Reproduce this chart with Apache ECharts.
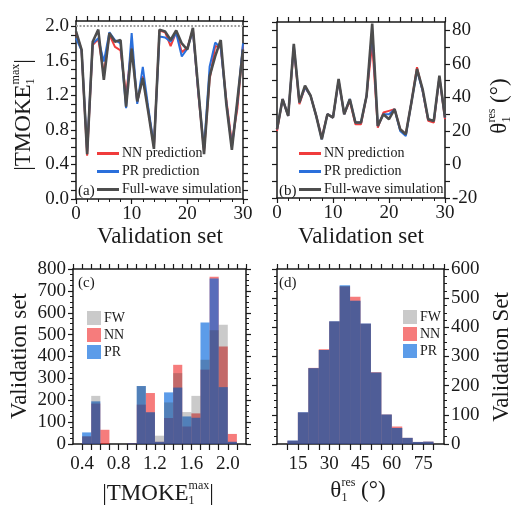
<!DOCTYPE html>
<html>
<head>
<meta charset="utf-8">
<script src="https://cdn.jsdelivr.net/npm/echarts@6/dist/echarts.min.js"></script>
<style>html,body{margin:0;padding:0;background:#fff}#c{width:512px;height:505px}</style>
</head>
<body>
<div id="c"></div>
<script>
// ---------- data ----------
const validationIdx = [0,1,2,3,4,5,6,7,8,9,10,11,12,13,14,15,16,17,18,19,20,21,22,23,24,25,26,27,28,29,30];
const tmokeFW = [1.94,1.73,0.52,1.82,1.96,1.38,1.92,1.82,1.84,1.07,1.74,1.13,1.40,1.00,0.58,1.96,1.94,1.84,1.95,1.80,1.73,1.98,1.25,0.52,1.42,1.65,1.84,1.10,0.57,1.15,1.73];
const tmokeNN = [1.93,1.72,0.50,1.78,1.85,1.45,1.90,1.76,1.72,1.20,1.78,1.12,1.42,1.02,0.60,1.95,1.93,1.77,1.93,1.70,1.75,1.96,1.20,0.55,1.38,1.77,1.75,1.15,0.65,1.05,1.78];
const tmokePR = [1.86,1.72,0.55,1.80,1.86,1.59,1.93,1.84,1.80,1.05,1.92,1.10,1.53,1.05,0.62,1.88,1.87,1.82,1.92,1.65,1.74,1.95,1.22,0.58,1.53,1.81,1.75,1.12,0.60,1.12,1.80];
const thetaFW = [21,39,29,72,37,47,41,29,15,30,28,51,30,39,25,25,41,84,23,30,27,33,21,18,37,57,45,27,26,53,28];
const thetaNN = [20,39,29,70,36,46,41,29,16,30,28,50,30,38,24,24,41,72,22,31,32,33,21,18,37,58,44,26,25,52,27];
const thetaPR = [21,39,29,71,37,46,41,29,15,30,28,50,30,39,25,25,41,80,23,30,30,33,20,17,37,56,44,27,26,52,28];
const tmokeBins = ['0.3-0.4','0.4-0.5','0.5-0.6','0.6-0.7','0.7-0.8','0.8-0.9','0.9-1.0','1.0-1.1','1.1-1.2','1.2-1.3','1.3-1.4','1.4-1.5','1.5-1.6','1.6-1.7','1.7-1.8','1.8-1.9','1.9-2.0','2.0-2.1','2.1-2.2'];
const histTmokeFW = [0,35,220,0,0,0,4,265,145,38,190,324,146,220,385,520,545,10,0];
const histTmokeNN = [0,35,185,65,0,0,3,180,233,10,119,362,80,140,340,765,446,46,0];
const histTmokePR = [0,53,195,0,0,0,3,265,145,10,236,258,126,120,555,757,260,10,0];
const thetaBins = ['5-10','10-15','15-20','20-25','25-30','30-35','35-40','40-45','45-50','50-55','55-60','60-65','65-70','70-75','75-80','80-85'];
const histThetaFW = [0,11,108,260,322,420,542,491,412,245,101,55,21,7,8,0];
const histThetaNN = [0,11,108,261,325,420,540,505,412,246,101,60,21,7,8,0];
const histThetaPR = [0,12,109,260,322,421,544,491,413,245,101,55,21,7,8,0];
const lineNames = ['NN prediction','PR prediction','Full-wave simulation'];
const histNames = ['FW','NN','PR'];

// ---------- style ----------
const FONT = '"Liberation Serif", "Times New Roman", serif';
const INK = '#1a1a1a';
const TICK_FS = 19, TITLE_FS = 23, LEG_FS = 14;
const C_NN = '#f03c3c', C_PR = '#2a6fdb', C_FW = '#4d4d4d';
const H_NN = 'rgba(240,30,30,0.58)', H_PR = 'rgba(0,100,220,0.64)', H_FW = 'rgba(51,51,51,0.26)';

const chart = echarts.init(document.getElementById('c'), null, {renderer: 'canvas'});

function axisBase(extra) {
  return Object.assign({
    axisLine: {show: true, onZero: false, lineStyle: {color: INK, width: 1.5}},
    axisTick: {show: true, inside: false, length: 5, lineStyle: {color: INK, width: 1.2}},
    splitLine: {show: false},
    axisLabel: {fontFamily: FONT, fontSize: TICK_FS, color: INK, margin: 6}
  }, extra);
}
function minor(n) { return {show: true, splitNumber: n, length: 3, lineStyle: {color: INK, width: 1}}; }
function mirror(extra) {
  return axisBase(Object.assign({axisLabel: {show: false}}, extra));
}
const pairs = (ys) => validationIdx.map((x, i) => [x, ys[i]]);

const grids = [
  {left: 76, top: 21, width: 167, height: 178},
  {left: 277, top: 22, width: 168, height: 176},
  {left: 73, top: 269, width: 173, height: 175},
  {left: 277, top: 269, width: 167, height: 175}
];

const xAxes = [
  axisBase({gridIndex: 0, type: 'value', min: 0, max: 30, interval: 10, position: 'bottom', minorTick: minor(5)}),
  mirror({gridIndex: 0, type: 'value', min: 0, max: 30, interval: 2, position: 'top'}),
  axisBase({gridIndex: 1, type: 'value', min: 0, max: 30, interval: 10, position: 'bottom', minorTick: minor(5)}),
  mirror({gridIndex: 1, type: 'value', min: 0, max: 30, interval: 2, position: 'top'}),
  {gridIndex: 2, type: 'category', data: tmokeBins, show: false, boundaryGap: true, position: 'bottom'},
  axisBase({gridIndex: 2, type: 'value', min: 0.3, max: 2.2, interval: 0.1, position: 'bottom',
    axisTick: {show: true, inside: false, length: 6, lineStyle: {color: INK, width: 1.2}},
    axisLabel: {fontFamily: FONT, fontSize: TICK_FS, color: INK, margin: 11,
      showMinLabel: false, showMaxLabel: false,
      formatter: v => (Math.round(v * 10) % 4 === 0 ? (Math.round(v * 10) / 10).toFixed(1) : '')}}),
  mirror({gridIndex: 2, type: 'value', min: 0.3, max: 2.2, interval: 0.1, position: 'top'}),
  {gridIndex: 3, type: 'category', data: thetaBins, show: false, boundaryGap: true, position: 'bottom'},
  axisBase({gridIndex: 3, type: 'value', min: 5, max: 85, interval: 5, position: 'bottom',
    axisTick: {show: true, inside: false, length: 6, lineStyle: {color: INK, width: 1.2}},
    axisLabel: {fontFamily: FONT, fontSize: TICK_FS, color: INK, margin: 11,
      showMinLabel: false, showMaxLabel: false,
      formatter: v => (Math.round(v) % 15 === 0 ? String(Math.round(v)) : '')}}),
  mirror({gridIndex: 3, type: 'value', min: 5, max: 85, interval: 5, position: 'top'})
];

const yAxes = [
  axisBase({gridIndex: 0, type: 'value', min: 0, max: 2.06, interval: 0.1, position: 'left',
    axisLabel: {fontFamily: FONT, fontSize: TICK_FS, color: INK, margin: 7, showMaxLabel: false,
      formatter: v => (Math.round(v * 10) % 4 === 0 && v <= 2.001 ? (Math.round(v * 10) / 10).toFixed(1) : '')}}),
  mirror({gridIndex: 0, type: 'value', min: 0, max: 2.06, interval: 0.1, position: 'right'}),
  axisBase({gridIndex: 1, type: 'value', min: -20, max: 85, interval: 10, position: 'right',
    axisLabel: {fontFamily: FONT, fontSize: TICK_FS, color: INK, margin: 7, showMaxLabel: false,
      formatter: v => (Math.round(v) % 20 === 0 && v <= 80 ? String(Math.round(v)) : '')}}),
  mirror({gridIndex: 1, type: 'value', min: -20, max: 85, interval: 10, position: 'left'}),
  axisBase({gridIndex: 2, type: 'value', min: 0, max: 800, interval: 100, position: 'left', minorTick: minor(4),
    axisLabel: {fontFamily: FONT, fontSize: TICK_FS, color: INK, margin: 7}}),
  mirror({gridIndex: 2, type: 'value', min: 0, max: 800, interval: 100, position: 'right', minorTick: minor(4)}),
  axisBase({gridIndex: 3, type: 'value', min: 0, max: 600, interval: 100, position: 'right', minorTick: minor(4),
    axisLabel: {fontFamily: FONT, fontSize: TICK_FS, color: INK, margin: 7}}),
  mirror({gridIndex: 3, type: 'value', min: 0, max: 600, interval: 100, position: 'left', minorTick: minor(4)})
];

function lineSeries(name, data, color, width, xi, yi, extra) {
  return Object.assign({type: 'line', name, data: pairs(data), xAxisIndex: xi, yAxisIndex: yi,
    symbol: 'none', showSymbol: false, lineStyle: {color, width}, itemStyle: {color}, z: 3}, extra || {});
}
function barSeries(name, data, color, xi, yi) {
  return {type: 'bar', name, data, xAxisIndex: xi, yAxisIndex: yi, barWidth: '100%', barGap: '-100%',
    barCategoryGap: 0, itemStyle: {color}, z: 2};
}

const series = [
  lineSeries('NN prediction', tmokeNN, C_NN, 2, 0, 0),
  lineSeries('PR prediction', tmokePR, C_PR, 2, 0, 0),
  lineSeries('Full-wave simulation', tmokeFW, C_FW, 2.6, 0, 0, {
    markLine: {silent: true, symbol: 'none', label: {show: false},
      lineStyle: {color: '#9a9a9a', type: 'dotted', width: 1.8}, data: [{yAxis: 2.0}]}}),
  lineSeries('NN prediction', thetaNN, C_NN, 2, 2, 2),
  lineSeries('PR prediction', thetaPR, C_PR, 2, 2, 2),
  lineSeries('Full-wave simulation', thetaFW, C_FW, 2.6, 2, 2),
  barSeries('NN', histTmokeNN, H_NN, 4, 4),
  barSeries('PR', histTmokePR, H_PR, 4, 4),
  barSeries('FW', histTmokeFW, H_FW, 4, 4),
  barSeries('NN', histThetaNN, H_NN, 7, 6),
  barSeries('PR', histThetaPR, H_PR, 7, 6),
  barSeries('FW', histThetaFW, H_FW, 7, 6)
];

function legendLines(left, top) {
  return {orient: 'vertical', left, top, data: lineNames, icon: 'rect', itemWidth: 22, itemHeight: 3,
    itemGap: 3, selectedMode: false, padding: 0,
    textStyle: {fontFamily: FONT, fontSize: LEG_FS, color: INK, lineHeight: 15, padding: [0, 0, 0, -2]}};
}
function legendHist(left, top) {
  return {orient: 'vertical', left, top, data: histNames, icon: 'rect', itemWidth: 14, itemHeight: 14,
    itemGap: 3, selectedMode: false, padding: 0,
    textStyle: {fontFamily: FONT, fontSize: LEG_FS, color: INK, padding: [0, 0, 0, -2]}};
}

// ---------- titles with sub/superscripts ----------
const mctx = document.createElement('canvas').getContext('2d');
function tw(t, size) { mctx.font = size + 'px ' + FONT; return mctx.measureText(t).width; }
function title(cx, cy, rot, pieces) {
  let x = 0, prevStart = 0, prevW = 0; const kids = [];
  pieces.forEach(p => {
    const w = tw(p.t, p.s); let sx;
    if (p.stack) { sx = prevStart; x = prevStart + Math.max(prevW, w); prevW = Math.max(prevW, w); }
    else { sx = x; x += w; prevStart = sx; prevW = w; }
    kids.push({type: 'text', x: sx, y: p.dy || 0, silent: true,
      style: {text: p.t, font: p.s + 'px ' + FONT, fill: INK, textVerticalAlign: 'middle', verticalAlign: 'middle', textAlign: 'left', align: 'left'}});
  });
  kids.forEach(k => { k.x -= x / 2; });
  return {type: 'group', x: cx, y: cy, rotation: rot, silent: true, children: kids};
}
const tmokeTitle = [{t: '|TMOKE', s: TITLE_FS}, {t: 'max', s: 12, dy: -8}, {t: '1', s: 12, dy: 7, stack: true}, {t: '|', s: TITLE_FS}];
const thetaTitle = [{t: 'θ', s: TITLE_FS}, {t: 'res', s: 12, dy: -8}, {t: '1', s: 12, dy: 7, stack: true}, {t: ' (°)', s: TITLE_FS}];
function plain(t, x, y, size, rot, align) {
  return {type: 'text', x, y, rotation: rot || 0, silent: true,
    style: {text: t, font: size + 'px ' + FONT, fill: INK, textAlign: align || 'center', align: align || 'center',
      textVerticalAlign: 'middle', verticalAlign: 'middle'}};
}
const graphics = [
  title(24, 115, Math.PI / 2, tmokeTitle),
  plain('Validation set', 160, 237, TITLE_FS),
  plain('Validation set', 361, 237, TITLE_FS),
  title(500, 106, Math.PI / 2, thetaTitle),
  plain('Validation set', 20, 356, TITLE_FS, Math.PI / 2),
  title(158, 494, 0, tmokeTitle),
  title(358, 491, 0, thetaTitle),
  plain('Validation Set', 502, 357, TITLE_FS, Math.PI / 2),
  plain('(a)', 78, 191, 15, 0, 'left'),
  plain('(b)', 279, 191, 15, 0, 'left'),
  plain('(c)', 78, 283, 15, 0, 'left'),
  plain('(d)', 279, 283, 15, 0, 'left')
];

chart.setOption({
  animation: false,
  backgroundColor: '#fff',
  grid: grids,
  xAxis: xAxes,
  yAxis: yAxes,
  legend: [legendLines(97, 146), legendLines(299, 146), legendHist(87, 311), legendHist(403, 310)],
  series,
  graphic: graphics
});
</script>
</body>
</html>
